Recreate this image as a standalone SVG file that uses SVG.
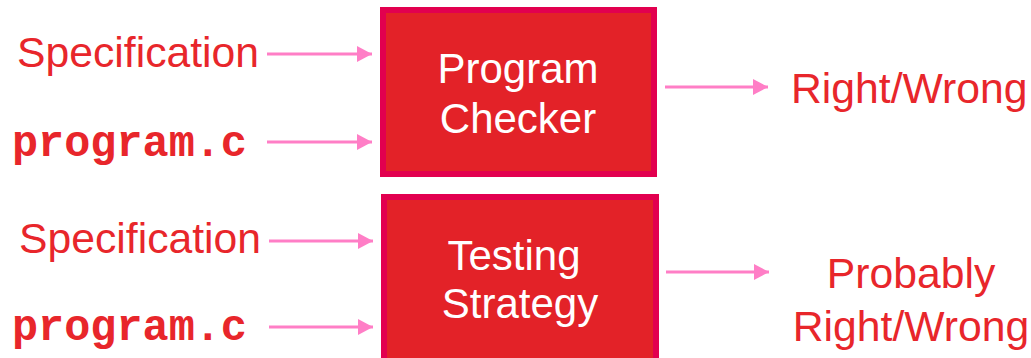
<svg xmlns="http://www.w3.org/2000/svg" width="1031" height="358" viewBox="0 0 1031 358">
<defs>
<marker id="ah" markerWidth="16" markerHeight="16" viewBox="0 0 16 16" refX="15" refY="8" orient="auto" markerUnits="userSpaceOnUse">
<path d="M0,0 L15,8 L0,16 z" fill="#FF7EC6"/>
</marker>
<style>
.lbl{font-family:"Liberation Sans",Arial,sans-serif;font-size:42.7px;fill:#E8262B}
.code{font-family:"Liberation Mono","Courier New",monospace;font-weight:bold;font-size:43.5px;fill:#E8262B}
.box{fill:#E32228;stroke:#E2004F;stroke-width:6}
.bt{font-family:"Liberation Sans",Arial,sans-serif;font-size:42px;fill:#FFFFFF;text-anchor:middle}
.arr{stroke:#FF7EC6;stroke-width:3;fill:none;marker-end:url(#ah)}
</style>
</defs>
<rect width="1031" height="358" fill="#FFFFFF"/>
<g id="spec1"><text class="lbl" x="17" y="67">Specification</text></g>
<g id="prog1"><text class="code" x="12" y="156">program.c</text></g>
<g id="checker">
<rect class="box" x="383" y="10" width="271" height="164"/>
<text class="bt" x="518" y="83">Program</text>
<text class="bt" x="518" y="133">Checker</text>
</g>
<g id="out1"><text class="lbl" x="791" y="103">Right/Wrong</text></g>
<g id="spec2"><text class="lbl" x="19" y="253">Specification</text></g>
<g id="prog2"><text class="code" x="12" y="340">program.c</text></g>
<g id="testing">
<rect class="box" x="384" y="197" width="272" height="175"/>
<text class="bt" x="514" y="270">Testing</text>
<text class="bt" x="520" y="318">Strategy</text>
</g>
<g id="out2">
<text class="lbl" x="911" y="288" text-anchor="middle">Probably</text>
<text class="lbl" x="911" y="341" text-anchor="middle">Right/Wrong</text>
</g>
<g id="connectors">
<line class="arr" x1="267" y1="54" x2="372" y2="54"/>
<line class="arr" x1="267" y1="142" x2="372" y2="142"/>
<line class="arr" x1="665" y1="87" x2="768" y2="87"/>
<line class="arr" x1="269" y1="241" x2="373" y2="241"/>
<line class="arr" x1="269" y1="327" x2="373" y2="327"/>
<line class="arr" x1="666" y1="272" x2="769" y2="272"/>
</g>
</svg>
